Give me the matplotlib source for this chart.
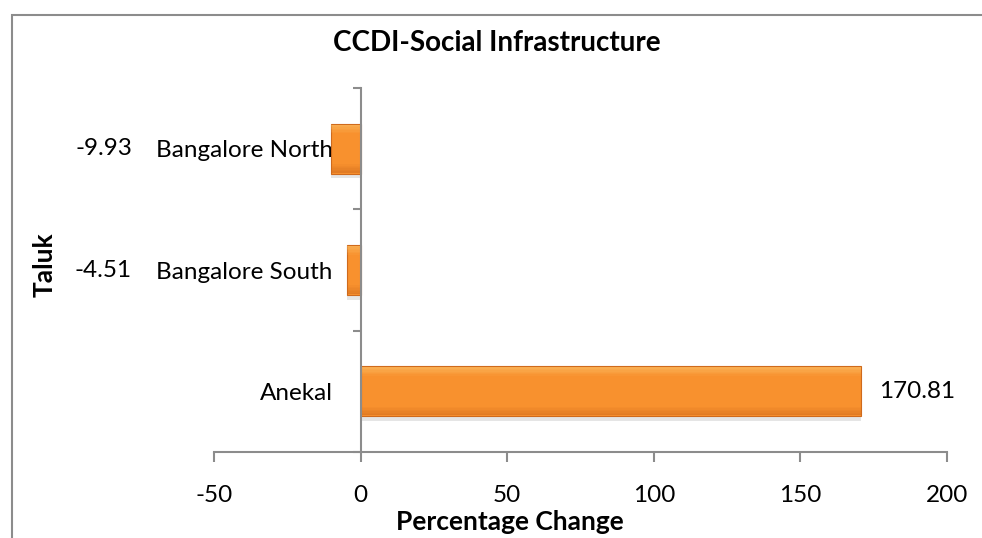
import matplotlib
matplotlib.use("Agg")
import matplotlib.pyplot as plt
from matplotlib.patches import Rectangle

plt.rcParams['font.family'] = ['Lato', 'DejaVu Sans']

taluks = ['Anekal', 'Bangalore South', 'Bangalore North']
pct_change = [170.81, -4.51, -9.93]
xticks = [-50, 0, 50, 100, 150, 200]

orange = '#F8912E'
light = '#FCC56E'
dark = '#CF6A1C'
axis_grey = '#8C8C8C'

fig = plt.figure(figsize=(9.82, 5.38), dpi=100)
ax = fig.add_axes([214/982, 1 - 452/538, (947 - 214)/982, (452 - 88)/538])

ypos = list(range(len(taluks)))
h = 0.41

# soft drop shadow, then the bar with a bevel look
ax.barh([y - 0.04 for y in ypos], pct_change, height=h, color='#000000',
        alpha=0.10, zorder=1, linewidth=0)
ax.barh(ypos, pct_change, height=h, color=orange, edgecolor=dark,
        linewidth=0.8, zorder=2)
steps = 6
for i in range(steps):
    a = 0.55 * (1 - i / steps)
    ax.barh([y + h/2 - 0.012 - i*0.012 for y in ypos], pct_change,
            height=0.012, color=light, linewidth=0, zorder=3, alpha=a)
    ax.barh([y - h/2 + 0.012 + i*0.012 for y in ypos], pct_change,
            height=0.012, color=dark, linewidth=0, zorder=3, alpha=a)

ax.set_xlim(-50, 200)
ax.set_ylim(-0.5, 2.5)

ax.spines['top'].set_visible(False)
ax.spines['right'].set_visible(False)
ax.spines['left'].set_position(('data', 0))
for s in ('left', 'bottom'):
    ax.spines[s].set_color(axis_grey)
    ax.spines[s].set_linewidth(1.5)
    ax.spines[s].set_zorder(4)

ax.set_xticks(xticks)
ax.set_xticklabels([str(t) for t in xticks])
ax.tick_params(axis='x', direction='out', length=7, width=1.5,
               color=axis_grey, labelsize=17.5, pad=17)

ax.set_yticks(ypos)
ax.set_yticklabels(taluks)
ax.set_yticks([-0.5, 0.5, 1.5, 2.5], minor=True)
ax.tick_params(axis='y', which='major', length=0, labelsize=17.5, pad=20)
ax.tick_params(axis='y', which='minor', direction='out', length=6,
               width=1.5, color=axis_grey)

# data labels
for y, v in zip(ypos, pct_change):
    if v < 0:
        ax.text(-78, y, f'{v:.2f}', ha='right', va='center', fontsize=17.5,
                clip_on=False)
    else:
        ax.annotate(f'{v:.2f}', xy=(v, y), xytext=(18, 0),
                    textcoords='offset pixels', ha='left', va='center',
                    fontsize=17.5)

ax.set_xlabel('Percentage Change', fontsize=19, fontweight='bold')
ax.xaxis.set_label_coords(0.404, -0.16)
ax.set_ylabel('Taluk', fontsize=19, fontweight='bold')
ax.yaxis.set_label_coords(-0.215, 0.515)

fig.text(497/982, 1 - 43/538, 'CCDI-Social Infrastructure', ha='center',
         va='center', fontsize=20, fontweight='bold')

# outer chart frame, running off the right and bottom edges
fig.patches.append(Rectangle((12/982, -0.1), 1.1, 1.1 - 15/538,
                             transform=fig.transFigure, fill=False,
                             edgecolor=axis_grey, linewidth=1.5))

fig.savefig('out.png', dpi=100)
